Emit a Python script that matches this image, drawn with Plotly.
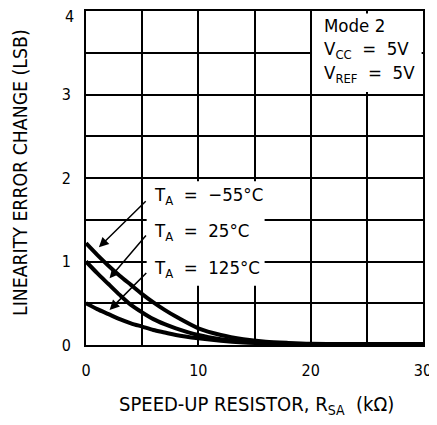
import plotly.graph_objects as go

# ---- data ----
r_sa = [0, 1, 2, 3, 4, 5, 6, 7, 8, 10, 12, 14, 16, 18, 20, 25, 30]
err_m55 = [1.22, 1.08, 0.95, 0.83, 0.72, 0.61, 0.51, 0.42, 0.34, 0.20, 0.12, 0.07, 0.04, 0.025, 0.015, 0.012, 0.012]
err_25 = [1.00, 0.86, 0.73, 0.60, 0.48, 0.39, 0.31, 0.25, 0.20, 0.12, 0.07, 0.04, 0.025, 0.015, 0.012, 0.01, 0.01]
err_125 = [0.50, 0.43, 0.37, 0.31, 0.26, 0.22, 0.18, 0.15, 0.12, 0.08, 0.05, 0.03, 0.02, 0.012, 0.01, 0.008, 0.008]
series_names = ["T_A = -55°C", "T_A = 25°C", "T_A = 125°C"]
label_texts = ["T<sub>A</sub>  =  −55°C", "T<sub>A</sub>  =  25°C", "T<sub>A</sub>  =  125°C"]
x_ticks = [0, 5, 10, 15, 20, 25, 30]
x_ticktext = ["0", "", "10", "", "20", "", "30"]
y_ticks = [0, 0.5, 1, 1.5, 2, 2.5, 3, 3.5, 4]
y_ticktext = ["0", "", "1", "", "2", "", "3", "", ""]
y_top_label = "4"

FONT = "DejaVu Sans Condensed, DejaVu Sans, sans-serif"
TXT = 18.5

fig = go.Figure()
for name, ys in zip(series_names, [err_m55, err_25, err_125]):
    fig.add_trace(go.Scatter(x=r_sa, y=ys, mode="lines", name=name,
                             line=dict(color="black", width=4, shape="spline", smoothing=0.8),
                             showlegend=False))

axis_common = dict(showgrid=True, gridcolor="black", gridwidth=2, zeroline=False,
                   showline=True, linecolor="black", linewidth=2, mirror=True,
                   ticks="", ticklabeloverflow="allow",
                   tickfont=dict(family=FONT, size=16, color="black"))
fig.update_xaxes(range=[0, 30], tickvals=x_ticks, ticktext=x_ticktext,
                 ticklabelstandoff=10, **axis_common)
fig.update_yaxes(range=[0, 4], tickvals=y_ticks, ticktext=y_ticktext,
                 ticklabelstandoff=10, **axis_common)

# top y label placed slightly below the border so it is not clipped
fig.add_annotation(x=0, y=4, xref="paper", yref="y", text=y_top_label, showarrow=False,
                   xanchor="right", yanchor="middle", xshift=-10, yshift=-5,
                   font=dict(family=FONT, size=16, color="black"))

# white boxes behind labels
fig.add_shape(type="rect", x0=5.4, x1=15.9, y0=0.71, y1=1.96, xref="x", yref="y",
              fillcolor="white", line_width=0, layer="above")
fig.add_shape(type="rect", x0=20.12, x1=29.88, y0=3.03, y1=3.97, xref="x", yref="y",
              fillcolor="white", line_width=0, layer="above")

# label positions and arrows
label_y = [1.79, 1.35, 0.91]
arrow_tail = [(5.45, 1.74), (5.45, 1.33), (5.5, 0.88)]
arrow_tip = [(1.15, 1.17), (2.1, 0.80), (2.1, 0.42)]
for txt, ly, (tx, ty), (hx, hy) in zip(label_texts, label_y, arrow_tail, arrow_tip):
    fig.add_annotation(x=5.9, y=ly, xref="x", yref="y", text=txt, showarrow=False,
                       xanchor="left", yanchor="middle",
                       font=dict(family=FONT, size=TXT, color="black"))
    fig.add_annotation(x=hx, y=hy, ax=tx, ay=ty, xref="x", yref="y", axref="x", ayref="y",
                       text="", showarrow=True, arrowhead=2, arrowsize=1.3, arrowwidth=1.5,
                       arrowcolor="black")

# conditions box
cond = ["Mode 2", "V<sub>CC</sub>  =  5V", "V<sub>REF</sub>  =  5V"]
cond_y = [3.83, 3.53, 3.24]
for t, yy in zip(cond, cond_y):
    fig.add_annotation(x=21.0, y=yy, xref="x", yref="y", text=t, showarrow=False,
                       xanchor="left", yanchor="middle",
                       font=dict(family=FONT, size=TXT, color="black"))

# axis titles
fig.add_annotation(x=(256 - 86) / 337, y=-(405 - 345) / 336, xref="paper", yref="paper",
                   text="SPEED-UP RESISTOR, R<sub>SA</sub>  (kΩ)", showarrow=False,
                   xanchor="center", yanchor="middle",
                   font=dict(family=FONT, size=20, color="black"))
fig.add_annotation(x=-(86 - 20) / 337, y=(345 - 172) / 336, xref="paper", yref="paper",
                   text="LINEARITY ERROR CHANGE (LSB)", showarrow=False, textangle=-90,
                   xanchor="center", yanchor="middle",
                   font=dict(family=FONT, size=19.3, color="black"))

# page body has an 8px margin, so the figure is sized/offset to compensate
fig.update_layout(width=429, height=409, margin=dict(l=78, r=14, t=1, b=72),
                  plot_bgcolor="white", paper_bgcolor="white")
fig.write_html("out.html")
